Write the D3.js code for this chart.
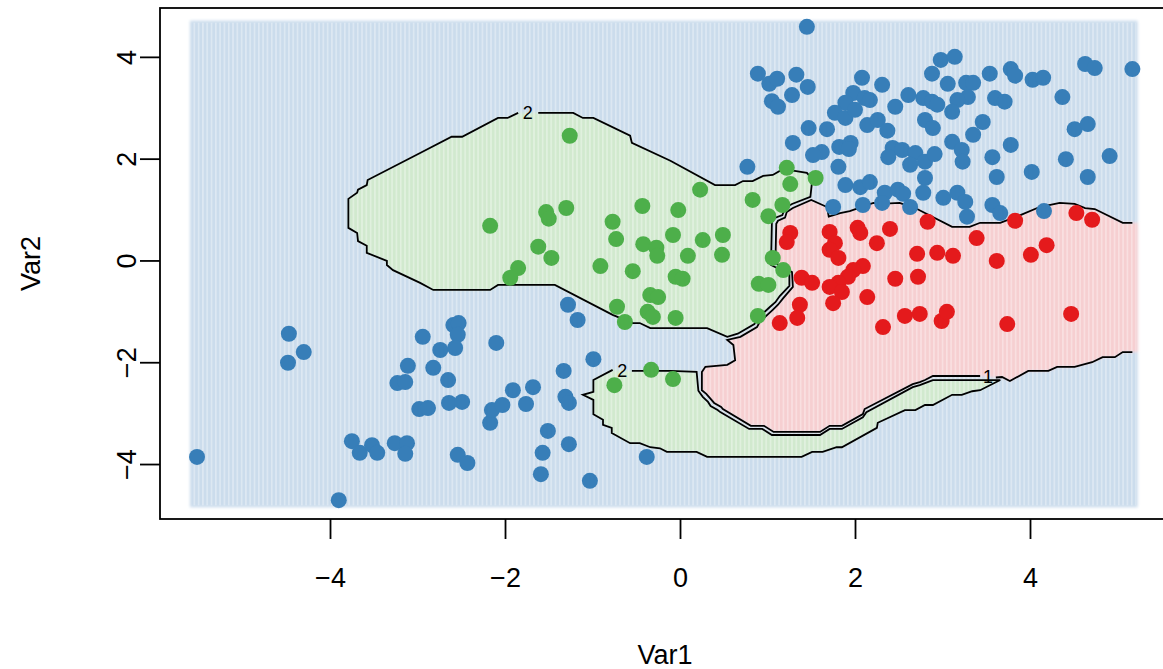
<!DOCTYPE html>
<html>
<head>
<meta charset="utf-8">
<script src="https://cdn.jsdelivr.net/npm/d3@7"></script>
<style>
  body { margin: 0; background: #fff; }
  svg { display: block; font-family: "Liberation Sans", Arial, sans-serif; }
</style>
</head>
<body>
<svg id="chart" width="1163" height="669"></svg>
<script>
// axis limits and ticks
const xLim = [-5.943, 5.6];
const yLim = [-5.08, 4.96];
const xTicks = [-4, -2, 0, 2, 4];
const yTicks = [-4, -2, 0, 2, 4];

// extent of the prediction grid
const gridX = [-5.6, 5.23];
const gridY = [-4.85, 4.71];

// observations, one array per class
const bluePts = [
  [1.45,4.59],[0.89,3.67],[1.02,3.47],[1.11,3.57],[1.33,3.65],[1.46,3.41],[1.28,3.25],[1.05,3.13],[1.12,3.02],
  [2.08,3.59],[2.31,3.45],[1.98,3.29],[2.11,3.19],[2.17,3.15],[1.89,3.10],[1.77,2.90],[1.89,2.80],[2.00,2.96],
  [2.46,3.02],[2.61,3.25],[2.78,3.19],[2.88,3.67],[1.47,2.60],[1.68,2.58],[2.14,2.66],[2.26,2.76],[2.37,2.55],[2.80,2.76],
  [1.29,2.31],[1.82,2.23],[1.95,2.31],[1.93,2.19],[1.62,2.13],[1.52,2.07],[2.43,2.21],[2.54,2.17],[2.38,2.03],[2.69,2.11],
  [2.63,1.88],[2.80,1.94],[0.77,1.84],[1.81,1.84],[1.89,1.48],[2.06,1.44],[2.17,1.54],[2.80,1.62],[2.34,1.33],[2.49,1.39],
  [2.55,1.31],[2.78,1.33],[2.31,1.13],[1.75,1.05],[2.09,1.09],[2.63,1.05],
  [2.98,3.94],[3.14,4.00],[3.06,3.47],[3.27,3.49],[3.35,3.49],[3.54,3.67],[3.78,3.76],[3.83,3.63],[4.03,3.55],[4.15,3.59],[4.37,3.21],
  [2.88,3.12],[2.94,3.06],[3.29,3.21],[3.17,3.15],[3.11,2.92],[3.60,3.19],[3.71,3.12],
  [2.89,2.60],[3.46,2.72],[3.35,2.47],[3.11,2.33],[3.22,2.17],[3.23,1.94],[2.91,2.09],
  [3.57,2.03],[3.78,2.27],[4.02,1.74],[3.62,1.64],[4.41,1.99],
  [3.01,1.23],[3.17,1.33],[3.26,1.15],[3.28,0.86],[3.57,1.09],[3.66,0.93],[4.16,0.97],
  [4.63,3.86],[4.74,3.78],[5.17,3.76],[4.51,2.58],[4.66,2.68],[4.91,2.05],[4.66,1.64],
  [-4.47,-1.44],[-4.48,-2.01],[-4.30,-1.80],[-5.52,-3.86],[-3.90,-4.71],[-3.75,-3.55],[-3.66,-3.78],[-3.52,-3.63],
  [-3.46,-3.78],[-3.26,-3.59],[-3.12,-3.59],[-3.14,-3.80],[-3.11,-2.07],[-3.23,-2.41],[-3.14,-2.39],[-2.94,-1.50],
  [-2.98,-2.92],[-2.88,-2.90],[-2.82,-2.11],[-2.74,-1.76],[-2.65,-2.35],[-2.64,-2.80],[-2.49,-2.78],[-2.59,-1.27],
  [-2.53,-1.23],[-2.54,-1.46],[-2.57,-1.72],[-2.10,-1.62],[-2.54,-3.82],[-2.43,-3.98],[-2.17,-3.19],[-2.15,-2.94],
  [-2.03,-2.84],[-1.91,-2.55],[-1.76,-2.82],[-1.68,-2.49],[-1.33,-2.17],[-1.31,-2.68],[-1.27,-2.80],[-1.28,-0.87],
  [-1.17,-1.17],[-0.99,-1.94],[-1.51,-3.35],[-1.27,-3.61],[-1.57,-3.78],[-1.59,-4.20],[-1.03,-4.33],[-0.38,-3.86]
];
const redPts = [
  [1.26,0.54],[1.22,0.36],[1.71,0.56],[1.77,0.34],[2.03,0.64],[2.06,0.54],[2.40,0.62],[2.25,0.34],[1.71,0.21],
  [1.81,0.05],[2.83,0.76],[2.71,0.13],[2.94,0.15],[2.09,-0.11],[1.98,-0.19],[1.92,-0.32],[1.81,-0.44],[1.71,-0.52],
  [1.85,-0.62],[1.39,-0.34],[1.51,-0.44],[1.75,-0.84],[2.14,-0.72],[2.46,-0.36],[2.72,-0.32],[1.37,-0.87],[1.34,-1.13],
  [1.14,-1.23],[2.32,-1.31],[2.57,-1.09],[2.74,-1.05],[2.99,-1.19],[3.05,-1.01],[3.74,-1.25],[4.47,-1.05],[3.39,0.44],
  [3.12,0.09],[3.62,-0.01],[4.01,0.11],[4.19,0.30],[3.83,0.78],[4.53,0.93],[4.71,0.80]
];
const greenPts = [
  [-1.26,2.45],[-1.53,0.95],[-1.50,0.82],[-1.30,1.03],[-2.17,0.68],[-0.43,1.07],[-0.77,0.76],[-0.73,0.42],
  [-0.42,0.32],[-0.27,0.25],[-0.26,0.09],[-1.62,0.27],[-1.47,0.05],[-0.91,-0.11],[-0.54,-0.21],[-1.85,-0.15],
  [-1.94,-0.34],[1.22,1.82],[1.26,1.50],[1.55,1.62],[0.23,1.39],[0.83,1.19],[1.17,1.09],[1.01,0.87],
  [-0.02,0.99],[-0.08,0.50],[0.49,0.50],[0.26,0.40],[0.09,0.09],[0.48,0.11],[1.06,0.05],[1.18,-0.19],
  [-0.05,-0.32],[0.03,-0.36],[-0.05,-1.13],[0.90,-0.46],[1.01,-0.48],[0.89,-1.09],[-0.34,-0.68],
  [-0.25,-0.72],[-0.72,-0.91],[-0.37,-1.01],[-0.31,-1.11],[-0.63,-1.21],[-0.33,-2.15],[-0.75,-2.45],[-0.08,-2.33]
];

// contour level 1 (class 3 region), open at the right grid edge, split at its label
const contour1 = [
  [5.17,0.74],[5.06,0.74],[4.74,1.01],[4.63,1.03],[4.51,1.11],[4.34,1.13],[4.11,1.05],[3.89,0.89],[3.66,0.74],
  [3.43,0.74],[3.31,0.66],[3.11,0.66],[2.71,1.01],[2.51,1.13],[2.29,1.11],[2.21,1.13],[1.94,0.97],[1.83,0.93],
  [1.70,0.86],[1.68,1.05],[1.50,1.19],[1.29,1.03],[1.22,0.95],[1.20,0.84],[1.12,0.78],[1.10,0.72],[1.09,-0.05],
  [1.28,-0.23],[1.29,-0.52],[1.18,-0.74],[1.12,-0.87],[1.06,-0.97],[0.91,-1.21],[0.88,-1.31],[0.69,-1.50],
  [0.54,-1.56],[0.61,-1.66],[0.63,-1.96],[0.54,-2.05],[0.29,-2.09],[0.25,-2.19],[0.25,-2.55],[0.30,-2.62],
  [0.35,-2.72],[0.39,-2.80],[0.47,-2.88],[0.49,-2.92],[0.81,-3.25],[0.96,-3.25],[1.07,-3.37],[1.60,-3.37],
  [1.71,-3.25],[1.85,-3.25],[2.09,-3.02],[2.11,-2.92],[2.66,-2.43],[2.74,-2.39],[2.80,-2.35],[2.89,-2.27],
  [3.43,-2.27]
];
const contour1b = [
  [3.61,-2.30],[3.68,-2.29],[3.77,-2.37],[3.98,-2.17],[4.21,-2.17],[4.31,-2.09],[4.51,-2.09],[4.71,-2.00],
  [4.83,-1.90],[4.97,-1.90],[5.06,-1.80],[5.17,-1.80]
];
// contour level 2, upper class 2 region (starts right of its label)
const contour2a = [
  [-1.62,2.90],[-1.22,2.90],[-1.11,2.80],[-0.99,2.80],[-0.57,2.45],[-0.55,2.31],[-0.11,1.96],[0.40,1.48],
  [0.63,1.48],[0.72,1.56],[0.83,1.56],[0.95,1.66],[1.06,1.68],[1.14,1.76],[1.31,1.76],[1.45,1.72],[1.49,1.64],
  [1.51,1.56],[1.49,1.25],[1.28,1.11],[1.20,1.03],[1.17,0.89],[1.09,0.84],[1.05,0.76],[1.04,-0.09],[1.25,-0.27],
  [1.25,-0.50],[1.14,-0.70],[1.09,-0.82],[1.03,-0.91],[0.88,-1.15],[0.85,-1.25],[0.66,-1.44],[0.54,-1.50],
  [0.31,-1.33],[-0.11,-1.33],[-0.34,-1.33],[-0.46,-1.23],[-0.54,-1.23],[-0.77,-1.07],[-1.43,-0.48],[-2.08,-0.48],
  [-2.17,-0.58],[-2.82,-0.58],[-2.97,-0.44],[-3.28,-0.19],[-3.35,-0.09],[-3.35,-0.01],[-3.58,0.15],[-3.58,0.29],
  [-3.68,0.38],[-3.69,0.54],[-3.79,0.64],[-3.79,1.21],[-3.69,1.33],[-3.68,1.39],[-3.58,1.48],[-3.57,1.58],
  [-2.97,2.11],[-2.61,2.43],[-2.49,2.43],[-2.08,2.80],[-1.97,2.80],[-1.85,2.90]
];
// contour level 2, lower class 2 region
const contour2b = [
  [-0.55,-2.17],[-0.11,-2.17],[0.19,-2.19],[0.21,-2.56],[0.26,-2.68],[0.32,-2.78],[0.35,-2.86],[0.43,-2.94],
  [0.46,-2.98],[0.79,-3.31],[0.94,-3.31],[1.05,-3.43],[1.60,-3.43],[1.71,-3.31],[1.85,-3.31],[2.09,-3.08],
  [2.13,-2.98],[2.66,-2.49],[2.74,-2.45],[2.80,-2.41],[2.89,-2.35],[3.43,-2.35],[3.66,-2.35],[3.43,-2.55],
  [3.34,-2.57],[3.22,-2.64],[3.11,-2.64],[2.89,-2.84],[2.80,-2.84],[2.69,-2.94],[2.57,-2.94],[2.26,-3.19],
  [2.25,-3.29],[1.85,-3.67],[1.79,-3.67],[1.63,-3.76],[1.51,-3.76],[1.39,-3.86],[0.31,-3.86],[0.19,-3.76],
  [-0.15,-3.76],[-0.23,-3.69],[-0.34,-3.67],[-0.46,-3.59],[-0.57,-3.59],[-0.78,-3.39],[-0.78,-3.29],[-0.88,-3.23],
  [-0.88,-3.13],[-0.99,-3.02],[-0.99,-2.74],[-1.11,-2.64],[-0.99,-2.58],[-0.99,-2.35],[-0.77,-2.15]
];
// contour labels
const contourLabels = [
  { text: "2", at: [-1.74, 2.89] },
  { text: "2", at: [-0.66, -2.18] },
  { text: "1", at: [3.52, -2.29] }
];

const colBlue = "#377EB8", colRed = "#E41A1C", colGreen = "#4DAF4A";

const svg = d3.select("#chart");
const x = d3.scaleLinear().domain(xLim).range([160, 1170]);
const y = d3.scaleLinear().domain(yLim).range([519, 8]);
const line = d3.line().x(d => x(d[0])).y(d => y(d[1]));

const defs = svg.append("defs");
defs.append("filter").attr("id", "soft")
  .attr("x", "-5%").attr("y", "-5%").attr("width", "110%").attr("height", "110%")
  .append("feGaussianBlur").attr("stdDeviation", 1.6);
const pat = defs.append("pattern").attr("id", "stripes")
  .attr("patternUnits", "userSpaceOnUse").attr("width", 4.3).attr("height", 20);
pat.append("rect").attr("width", 1.6).attr("height", 20).attr("fill", "#fff").attr("opacity", 0.35);

// background prediction grid
const gx = x(gridX[0]), gy = y(gridY[1]);
const gw = x(gridX[1]) - x(gridX[0]), gh = y(gridY[0]) - y(gridY[1]);
const bg = svg.append("g").attr("filter", "url(#soft)");
bg.append("rect").attr("x", gx).attr("y", gy).attr("width", gw).attr("height", gh).attr("fill", "#cbdcec");
bg.append("path").attr("d", line(contour2a) + "Z").attr("fill", "#d1e9ce");
bg.append("path").attr("d", line(contour2b) + "Z").attr("fill", "#d1e9ce");
const redFill = [[gridX[1], contour1[0][1]], ...contour1, ...contour1b, [gridX[1], contour1b[contour1b.length - 1][1]]];
bg.append("path").attr("d", line(redFill) + "Z").attr("fill", "#f6cfd1");
svg.append("rect").attr("x", gx + 2).attr("y", gy + 2).attr("width", gw - 4).attr("height", gh - 4)
  .attr("fill", "url(#stripes)");

// contours
const cg = svg.append("g").attr("fill", "none").attr("stroke", "#000").attr("stroke-width", 1.8);
[contour1, contour1b, contour2a, contour2b].forEach(c => cg.append("path").attr("d", line(c)));
svg.append("g").selectAll("text").data(contourLabels).join("text")
  .attr("x", d => x(d.at[0])).attr("y", d => y(d.at[1]))
  .attr("text-anchor", "middle").attr("dominant-baseline", "central")
  .attr("font-size", 18).text(d => d.text);

// observations
[[bluePts, colBlue], [redPts, colRed], [greenPts, colGreen]].forEach(([pts, col]) => {
  svg.append("g").selectAll("circle").data(pts).join("circle")
    .attr("cx", d => x(d[0])).attr("cy", d => y(d[1])).attr("r", 8).attr("fill", col);
});

// axes
const fmt = d => (d < 0 ? "\u2212" + Math.abs(d) : String(d));
const tickLen = 20;
const xAxis = svg.append("g").attr("transform", `translate(0,${y(yLim[0])})`)
  .call(d3.axisBottom(x).tickValues(xTicks).tickSize(tickLen).tickFormat(fmt));
const yAxis = svg.append("g").attr("transform", `translate(${x(xLim[0])},0)`)
  .call(d3.axisLeft(y).tickValues(yTicks).tickSize(tickLen).tickFormat(fmt));
[xAxis, yAxis].forEach(a => {
  a.attr("font-size", 27).attr("font-family", null);
  a.select(".domain").remove();
  a.selectAll(".tick line").attr("stroke", "#000").attr("stroke-width", 1.8);
  a.selectAll(".tick text").attr("fill", "#000");
});
xAxis.selectAll(".tick text").attr("y", 59).attr("dy", "0.35em");
yAxis.selectAll(".tick text").attr("x", 0).attr("dy", "0.35em")
  .attr("text-anchor", "middle").attr("transform", "translate(-33,0) rotate(-90)");

// box
svg.append("rect")
  .attr("x", x(xLim[0])).attr("y", y(yLim[1]))
  .attr("width", x(xLim[1]) - x(xLim[0])).attr("height", y(yLim[0]) - y(yLim[1]))
  .attr("fill", "none").attr("stroke", "#000").attr("stroke-width", 1.8);

// titles
svg.append("text").attr("x", (x(xLim[0]) + x(xLim[1])) / 2).attr("y", 655).attr("dy", "0.35em")
  .attr("text-anchor", "middle").attr("font-size", 27).text("Var1");
svg.append("text").attr("transform", `translate(31,${(y(yLim[0]) + y(yLim[1])) / 2}) rotate(-90)`)
  .attr("dy", "0.35em").attr("text-anchor", "middle").attr("font-size", 27).text("Var2");
</script>
</body>
</html>
